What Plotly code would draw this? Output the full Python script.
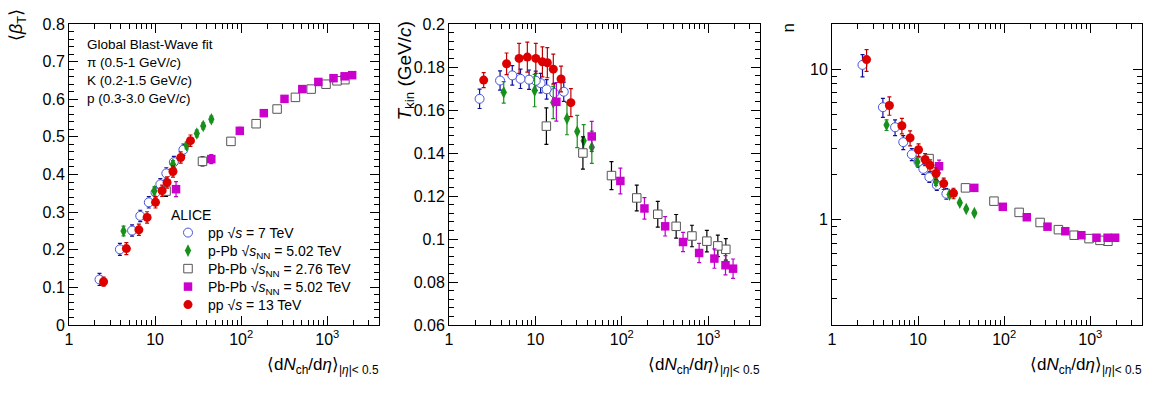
import plotly.graph_objects as go
import numpy as np

# ---------------- data ----------------
# pp 7 TeV
x_pp7 = [21.3, 16.5, 13.5, 11.5, 10.1, 8.45, 6.72, 5.40, 3.90, 2.26]
beta_pp7 = [0.466, 0.433, 0.403, 0.374, 0.352, 0.326, 0.290, 0.251, 0.201, 0.121]
beta_pp7_err = [0.015, 0.015, 0.015, 0.015, 0.015, 0.015, 0.015, 0.015, 0.016, 0.016]
t_pp7 = [0.1685, 0.1679, 0.1696, 0.1725, 0.1736, 0.1741, 0.1745, 0.1761, 0.1737, 0.1652]
t_pp7_err = [0.0045, 0.0045, 0.0045, 0.0045, 0.0045, 0.0045, 0.0045, 0.0045, 0.0045, 0.0045]
n_pp7 = [1.49, 1.70, 1.92, 2.18, 2.43, 2.72, 3.28, 4.12, 5.6, 10.7]
n_pp7_err = [0.12, 0.13, 0.15, 0.18, 0.2, 0.25, 0.35, 0.5, 0.8, 1.8]

# pp 13 TeV
x_pp13 = [25.75, 19.83, 16.12, 13.76, 12.06, 10.11, 8.07, 6.48, 4.64, 2.52]
beta_pp13 = [0.490, 0.445, 0.408, 0.379, 0.357, 0.326, 0.286, 0.253, 0.203, 0.115]
beta_pp13_err = [0.015, 0.015, 0.015, 0.015, 0.015, 0.015, 0.015, 0.015, 0.016, 0.012]
t_pp13 = [0.1634, 0.1744, 0.1790, 0.1820, 0.1824, 0.1840, 0.1846, 0.1840, 0.1815, 0.1739]
t_pp13_err = [0.0065, 0.006, 0.007, 0.007, 0.007, 0.007, 0.007, 0.007, 0.005, 0.0035]
n_pp13 = [1.50, 1.74, 2.03, 2.30, 2.52, 2.92, 3.50, 4.22, 5.75, 11.6]
n_pp13_err = [0.12, 0.15, 0.18, 0.2, 0.23, 0.28, 0.4, 0.5, 0.8, 1.9]

# p-Pb 5.02 TeV
x_ppb = [45.0, 36.2, 30.5, 23.2, 16.1, 9.8, 4.3]
beta_ppb = [0.547, 0.529, 0.509, 0.477, 0.427, 0.356, 0.250]
beta_ppb_err = [0.008, 0.008, 0.009, 0.009, 0.01, 0.011, 0.013]
t_ppb = [0.1427, 0.1457, 0.1500, 0.1560, 0.1635, 0.1690, 0.1682]
t_ppb_err = [0.0075, 0.0075, 0.0075, 0.0075, 0.0075, 0.0075, 0.005]
n_ppb = [1.11, 1.18, 1.30, 1.47, 1.79, 2.42, 4.27]
n_ppb_err = [0.03, 0.03, 0.04, 0.06, 0.1, 0.15, 0.35]

# Pb-Pb 2.76 TeV
x_pbpb276 = [1601, 1294, 966, 649, 426, 261, 149, 76, 35.5, 13.4]
beta_pbpb276 = [0.652, 0.649, 0.640, 0.627, 0.605, 0.574, 0.535, 0.488, 0.435, 0.356]
beta_pbpb276_err = [0.006, 0.006, 0.006, 0.006, 0.006, 0.007, 0.007, 0.008, 0.012, 0.014]
t_pbpb276 = [0.0952, 0.0968, 0.0990, 0.1014, 0.1059, 0.1115, 0.1191, 0.1295, 0.1400, 0.1525]
t_pbpb276_err = [0.005, 0.005, 0.005, 0.005, 0.0055, 0.006, 0.006, 0.0065, 0.0075, 0.0085]
n_pbpb276 = [0.72, 0.73, 0.75, 0.79, 0.86, 0.96, 1.12, 1.33, 1.63, 2.55]
n_pbpb276_err = [0.02, 0.02, 0.02, 0.02, 0.02, 0.03, 0.03, 0.04, 0.08, 0.12]

# Pb-Pb 5.02 TeV
x_pbpb502 = [1942, 1587, 1180, 786, 512, 318, 183, 96.3, 44.9, 17.5]
beta_pbpb502 = [0.664, 0.661, 0.656, 0.646, 0.627, 0.601, 0.563, 0.516, 0.441, 0.361]
beta_pbpb502_err = [0.006, 0.006, 0.006, 0.006, 0.007, 0.007, 0.008, 0.009, 0.012, 0.02]
t_pbpb502 = [0.0862, 0.0878, 0.0909, 0.0935, 0.0986, 0.1059, 0.1142, 0.1270, 0.1477, 0.1638]
t_pbpb502_err = [0.0045, 0.0045, 0.0045, 0.0045, 0.0045, 0.0045, 0.005, 0.006, 0.007, 0.009]
n_pbpb502 = [0.76, 0.76, 0.76, 0.79, 0.84, 0.90, 1.04, 1.22, 1.63, 2.27]
n_pbpb502_err = [0.02, 0.02, 0.02, 0.02, 0.02, 0.03, 0.03, 0.04, 0.06, 0.22]

x_tickvals = [1, 10, 100, 1000]
x_ticktext = ["1", "10", "10<sup>2</sup>", "10<sup>3</sup>"]

# ---------------- styling ----------------
FONT = "Liberation Sans, Arial, sans-serif"
W, H = 1162, 399

series = [
    dict(name="pp √<i>s</i> = 7 TeV", x=x_pp7, ys=[beta_pp7, t_pp7, n_pp7],
         es=[beta_pp7_err, t_pp7_err, n_pp7_err],
         marker=dict(symbol="circle", size=9, color="white", line=dict(width=1, color="#4455dd")),
         ecol="#10109a"),
    dict(name="p-Pb √<i>s</i><sub>NN</sub> = 5.02 TeV", x=x_ppb, ys=[beta_ppb, t_ppb, n_ppb],
         es=[beta_ppb_err, t_ppb_err, n_ppb_err],
         marker=dict(symbol="diamond-tall", size=9, color="#18901c", line=dict(width=0)),
         ecol="#18901c"),
    dict(name="Pb-Pb √<i>s</i><sub>NN</sub> = 2.76 TeV", x=x_pbpb276, ys=[beta_pbpb276, t_pbpb276, n_pbpb276],
         es=[beta_pbpb276_err, t_pbpb276_err, n_pbpb276_err],
         marker=dict(symbol="square", size=8.5, color="white", line=dict(width=1, color="#555555")),
         ecol="#000000"),
    dict(name="Pb-Pb √<i>s</i><sub>NN</sub> = 5.02 TeV", x=x_pbpb502, ys=[beta_pbpb502, t_pbpb502, n_pbpb502],
         es=[beta_pbpb502_err, t_pbpb502_err, n_pbpb502_err],
         marker=dict(symbol="square", size=8.5, color="#cc00cc", line=dict(width=0)),
         ecol="#bb00cc"),
    dict(name="pp √<i>s</i> = 13 TeV", x=x_pp13, ys=[beta_pp13, t_pp13, n_pp13],
         es=[beta_pp13_err, t_pp13_err, n_pp13_err],
         marker=dict(symbol="circle", size=9, color="#dd0000", line=dict(width=0)),
         ecol="#c00000"),
]

legend_ids = ["legend", "legend2", "legend3", "legend4", "legend5"]

fig = go.Figure()
axes = [("x", "y"), ("x2", "y2"), ("x3", "y3")]
for i, s in enumerate(series):
    for k, (xa, ya) in enumerate(axes):
        fig.add_trace(go.Scatter(
            x=s["x"], y=s["ys"][k], mode="markers", name=s["name"],
            legendgroup=s["name"], showlegend=(k == 0), legend=legend_ids[i],
            marker=s["marker"],
            error_y=dict(type="data", array=s["es"][k], visible=True,
                         color=s["ecol"], thickness=1.2, width=2),
            xaxis=xa, yaxis=ya,
        ))

def px_x(p):
    return p / W

def px_y(p):
    return 1 - p / H

ydom = [px_y(325), px_y(24)]
xdoms = [[px_x(69), px_x(379)], [px_x(449), px_x(760)], [px_x(832), px_x(1142)]]

minor_log_x = [m * 10 ** e for e in range(0, 4) for m in range(2, 10) if m * 10 ** e < 4200]

common_x = dict(type="log", range=[0, 3.6], tickmode="array", tickvals=x_tickvals, ticktext=x_ticktext,
                ticks="inside", ticklen=9, tickwidth=1, tickcolor="black", mirror="allticks",
                showline=True, linecolor="black", linewidth=1, showgrid=False, zeroline=False,
                automargin=False,
                tickfont=dict(family=FONT, size=16, color="black"),
                minor=dict(ticks="inside", ticklen=5, tickcolor="black", tickmode="array", tickvals=minor_log_x, showgrid=False))
common_y = dict(ticks="inside", ticklen=9, tickwidth=1, tickcolor="black", mirror="allticks",
                showline=True, linecolor="black", linewidth=1, showgrid=False, zeroline=False,
                automargin=False,
                tickfont=dict(family=FONT, size=16, color="black"), domain=ydom)

fig.update_layout(
    xaxis=dict(domain=xdoms[0], anchor="y", **common_x),
    xaxis2=dict(domain=xdoms[1], anchor="y2", **common_x),
    xaxis3=dict(domain=xdoms[2], anchor="y3", **common_x),
    yaxis=dict(anchor="x", range=[0, 0.8], dtick=0.1, tick0=0,
               minor=dict(ticks="inside", ticklen=5, tickcolor="black", dtick=0.02, showgrid=False), **common_y),
    yaxis2=dict(anchor="x2", range=[0.06, 0.2], dtick=0.02, tick0=0.06,
                minor=dict(ticks="inside", ticklen=5, tickcolor="black", dtick=0.004, tick0=0.06, showgrid=False), **common_y),
    yaxis3=dict(anchor="x3", type="log", range=[np.log10(0.2), np.log10(20)], tickmode="array",
                tickvals=[1, 10], ticktext=["1", "10"],
                minor=dict(ticks="inside", ticklen=5, tickcolor="black", tickmode="array",
                           tickvals=[0.2, 0.3, 0.4, 0.5, 0.6, 0.7, 0.8, 0.9, 2, 3, 4, 5, 6, 7, 8, 9, 20], showgrid=False),
                **common_y),
)

annos = []
# axis titles
xtitle = "⟨d<i>N</i><sub>ch</sub>/d<i>η</i>⟩<sub>|<i>η</i>|< 0.5</sub>"
for right in (381, 762, 1144):
    annos.append(dict(text=xtitle, x=px_x(right), y=px_y(366), xref="paper", yref="paper",
                      xanchor="right", yanchor="middle", showarrow=False,
                      font=dict(family=FONT, size=17, color="black")))
annos.append(dict(text="⟨<i>β</i><sub>T</sub>⟩", x=px_x(17), y=px_y(7), xref="paper", yref="paper",
                  xanchor="center", yanchor="top", textangle=-90, showarrow=False,
                  font=dict(family=FONT, size=18, color="black")))
annos.append(dict(text="<i>T</i><sub>kin</sub> (GeV/<i>c</i>)", x=px_x(405), y=px_y(19), xref="paper", yref="paper",
                  xanchor="center", yanchor="top", textangle=-90, showarrow=False,
                  font=dict(family=FONT, size=19, color="black")))
annos.append(dict(text="n", x=px_x(788), y=px_y(22), xref="paper", yref="paper",
                  xanchor="center", yanchor="top", textangle=-90, showarrow=False,
                  font=dict(family=FONT, size=17, color="black")))
# fit info
info = ["Global Blast-Wave fit", "π (0.5-1 GeV/<i>c</i>)", "K (0.2-1.5 GeV/<i>c</i>)", "p (0.3-3.0 GeV/<i>c</i>)"]
for i, t in enumerate(info):
    annos.append(dict(text=t, x=px_x(85), y=px_y(44 + 18.3 * i), xref="paper", yref="paper",
                      xanchor="left", yanchor="middle", showarrow=False,
                      font=dict(family=FONT, size=13.5, color="black")))
# legend header
annos.append(dict(text="ALICE", x=px_x(169), y=px_y(215), xref="paper", yref="paper",
                  xanchor="left", yanchor="middle", showarrow=False,
                  font=dict(family=FONT, size=14, color="black")))

legend_rows = [233, 251, 269, 287, 305]
legend_layout = {}
for lid, row in zip(legend_ids, legend_rows):
    legend_layout[lid] = dict(x=px_x(168), y=px_y(row), xanchor="left", yanchor="middle",
                              bgcolor="rgba(0,0,0,0)", borderwidth=0,
                              font=dict(family=FONT, size=14, color="black"),
                              tracegroupgap=0, itemsizing="trace")

fig.update_layout(
    annotations=annos,
    width=W, height=H,
    margin=dict(l=0, r=0, t=0, b=0),
    paper_bgcolor="white", plot_bgcolor="white",
    font=dict(family=FONT, size=12, color="black"),
    showlegend=True,
    **legend_layout,
)

fig.write_html("out.html", config={"displayModeBar": False},
               post_script="document.body.style.margin='0px';document.body.style.padding='0px';")
